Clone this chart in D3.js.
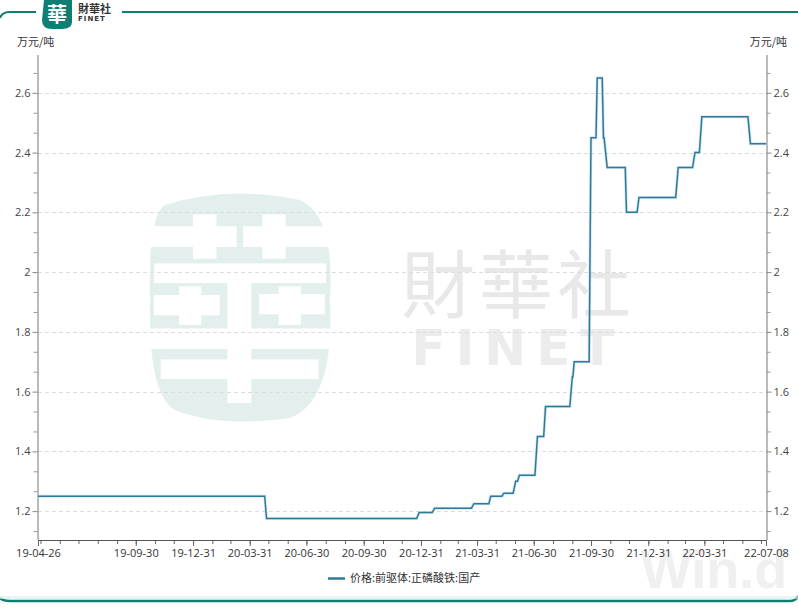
<!DOCTYPE html>
<html><head><meta charset="utf-8">
<script src="https://cdn.jsdelivr.net/npm/d3@7"></script>
<style>
html,body{margin:0;padding:0;background:#fff;}
svg{display:block;font-family:"Noto Sans CJK SC","Noto Sans",sans-serif;}
</style></head>
<body><svg id="c" width="798" height="613"></svg>
<script>
// ---- data ----
const dates = ["2019-04-26","2020-04-24","2020-04-27","2020-12-24","2020-12-28","2021-01-18","2021-01-22",
"2021-03-22","2021-03-26","2021-04-19","2021-04-22","2021-05-10","2021-05-13","2021-05-28","2021-06-01",
"2021-06-04","2021-06-07","2021-07-02","2021-07-06","2021-07-16","2021-07-19","2021-08-27","2021-08-31",
"2021-09-01","2021-09-03","2021-09-27","2021-09-30","2021-10-08","2021-10-10","2021-10-18","2021-10-20",
"2021-10-21","2021-10-26","2021-11-24","2021-11-26","2021-12-13","2021-12-16","2022-02-13","2022-02-17",
"2022-03-12","2022-03-16","2022-03-23","2022-03-27","2022-06-09","2022-06-13","2022-07-08"];
const values = [1.25,1.25,1.175,1.175,1.195,1.195,1.21,
1.21,1.225,1.225,1.25,1.25,1.26,1.26,1.30,
1.30,1.32,1.32,1.45,1.45,1.55,1.55,1.65,
1.65,1.70,1.70,2.45,2.45,2.65,2.65,2.45,
2.45,2.35,2.35,2.20,2.20,2.25,2.25,2.35,
2.35,2.40,2.40,2.52,2.52,2.43,2.43];
const xTickLabels = ["2019-04-26","2019-09-30","2019-12-31","2020-03-31","2020-06-30","2020-09-30","2020-12-31",
"2021-03-31","2021-06-30","2021-09-30","2021-12-31","2022-03-31","2022-07-08"];
const yTicks = [1.2,1.4,1.6,1.8,2.0,2.2,2.4,2.6];
const seriesName = "价格:前驱体:正磷酸铁:国产";
const unitLabel = "万元/吨";

// ---- setup ----
const parse = d3.timeParse("%Y-%m-%d");
const fmt = d3.timeFormat("%y-%m-%d");
const data = dates.map((d,i)=>({date:parse(d), value:values[i]}));
const svg = d3.select("#c");
const L=38, R=767, T=55, B=540;
const x = d3.scaleTime().domain([parse("2019-04-26"), parse("2022-07-08")]).range([L, 766]);
const y = d3.scaleLinear().domain([1.1, 2.73]).range([541, 54]);

// ---- frame ----
const teal = "#0f7f73";
svg.append("path").attr("d","M0,18 Q2,12 10,12 L36,12").attr("fill","none").attr("stroke",teal).attr("stroke-width",2);
svg.append("line").attr("x1",122).attr("x2",798).attr("y1",12).attr("y2",12).attr("stroke",teal).attr("stroke-width",2);
svg.append("path").attr("d","M0,598 Q2,601 10,601 L790,601 Q796,601 798,596").attr("fill","none").attr("stroke",teal).attr("stroke-width",2.5);
svg.append("rect").attr("x",0).attr("y",596).attr("width",798).attr("height",3).attr("fill","#d9efec").attr("opacity",0.6);
// header logo
svg.append("path").attr("d","M44,0 L72,0 L72,22 Q72,29 62,29 L52,29 Q42,29 42,20 Z").attr("fill",teal);
svg.append("text").attr("x",57).attr("y",22).attr("text-anchor","middle").attr("font-size",20).attr("font-weight","bold")
  .attr("fill","#fff").attr("font-family","'Noto Sans CJK TC',sans-serif").text("華");
svg.append("text").attr("x",78).attr("y",13).attr("font-size",11).attr("font-weight","bold").attr("fill","#333")
  .attr("font-family","'Noto Sans CJK TC',sans-serif").text("財華社");
svg.append("text").attr("x",78).attr("y",21).attr("font-size",7).attr("font-weight","bold").attr("fill","#333")
  .attr("letter-spacing",1).attr("font-family","'DejaVu Sans',sans-serif").text("FINET");

// ---- watermarks ----
svg.append("path").attr("d","M165,205 Q230,185 300,200 Q335,215 330,300 Q335,400 290,418 Q220,428 175,410 Q148,395 150,300 Q148,215 165,205 Z")
  .attr("fill","#e2efed");
svg.append("text").attr("x",240).attr("y",385).attr("text-anchor","middle").attr("font-size",200).attr("font-weight","bold")
  .attr("fill","#fff").attr("font-family","'Noto Sans CJK TC',sans-serif").text("華");
svg.append("text").attr("x",518).attr("y",312).attr("text-anchor","middle").attr("font-size",74)
  .attr("fill","#e8e8e8").attr("font-family","'Noto Sans CJK TC',sans-serif").attr("letter-spacing",4).text("財華社");
svg.append("text").attr("x",518).attr("y",365).attr("text-anchor","middle").attr("font-size",50).attr("font-weight","bold")
  .attr("fill","#ececec").attr("font-family","'DejaVu Sans',sans-serif").attr("letter-spacing",10).text("FINET");
svg.append("text").attr("x",714).attr("y",588).attr("text-anchor","middle").attr("font-size",54).attr("font-weight","bold")
  .attr("fill","#f0f0f0").attr("font-family","'Liberation Sans',sans-serif").text("Win.d");

// ---- grid ----
svg.append("g").selectAll("line").data(yTicks).join("line")
  .attr("x1",L).attr("x2",R).attr("y1",d=>Math.round(y(d))+0.5).attr("y2",d=>Math.round(y(d))+0.5)
  .attr("stroke","#dcdcdc").attr("stroke-dasharray","4,3");

// ---- axes ----
const step = 0.2/3;
const yMinor = d3.range(1.2 - step, 2.72, step).filter(v=>!yTicks.some(t=>Math.abs(t-v)<1e-6));
function yAxis(orient, xpos){
  const ax = (orient==="left"?d3.axisLeft(y):d3.axisRight(y)).tickValues(yTicks).tickSize(5).tickPadding(2)
    .tickFormat(d=>d3.format("")(+d.toFixed(1)));
  const g = svg.append("g").attr("transform",`translate(${xpos},0)`).call(ax);
  g.select(".domain").attr("d",`M0.5,${T}V${B}`).attr("stroke","#777");
  g.selectAll(".tick line").attr("stroke","#888");
  g.selectAll(".tick text").attr("fill","#444").attr("font-size",11).attr("font-family","'Open Sans','Noto Sans',sans-serif");
  const m = orient==="left"?d3.axisLeft(y):d3.axisRight(y);
  const gm = svg.append("g").attr("transform",`translate(${xpos},0)`).call(m.tickValues(yMinor).tickSize(4).tickFormat(""));
  gm.select(".domain").remove();
  gm.selectAll(".tick line").attr("stroke","#999");
}
yAxis("left", L-0.5);
yAxis("right", R-0.5);

const monthEnds = d3.timeMonths(parse("2019-05-01"), parse("2022-07-02")).map(d=>d3.timeDay.offset(d,-1));
const gxMinor = svg.append("g").attr("transform",`translate(0,${B})`)
  .call(d3.axisBottom(x).tickValues(monthEnds).tickSize(4).tickFormat(""));
gxMinor.select(".domain").remove();
gxMinor.selectAll(".tick line").attr("stroke","#666");
const gx = svg.append("g").attr("transform",`translate(0,${B})`)
  .call(d3.axisBottom(x).tickValues(xTickLabels.map(parse)).tickSize(6).tickPadding(3).tickFormat(fmt));
gx.select(".domain").attr("d",`M${L},0.5H${R}`).attr("stroke","#555");
gx.selectAll(".tick line").attr("stroke","#666");
gx.selectAll(".tick text").attr("fill","#333").attr("font-size",11).attr("font-family","'Open Sans','Noto Sans',sans-serif");

// unit labels
svg.append("text").attr("x",17).attr("y",46).attr("font-size",11).attr("fill","#333").text(unitLabel);
svg.append("text").attr("x",787).attr("y",46).attr("text-anchor","end").attr("font-size",11).attr("fill","#333").text(unitLabel);

// ---- line ----
const line = d3.line().x(d=>x(d.date)).y(d=>y(d.value));
svg.append("path").datum(data).attr("d",line).attr("fill","none").attr("stroke","#a9cfe0").attr("stroke-width",3).attr("opacity",0.5);
svg.append("path").datum(data).attr("d",line).attr("fill","none").attr("stroke","#2f7a9c").attr("stroke-width",1.5);

// ---- legend ----
svg.append("line").attr("x1",328).attr("x2",345).attr("y1",578.5).attr("y2",578.5).attr("stroke","#2f7a9c").attr("stroke-width",2.5);
svg.append("text").attr("x",350).attr("y",582).attr("font-size",11).attr("fill","#333").text(seriesName);
</script></body></html>
